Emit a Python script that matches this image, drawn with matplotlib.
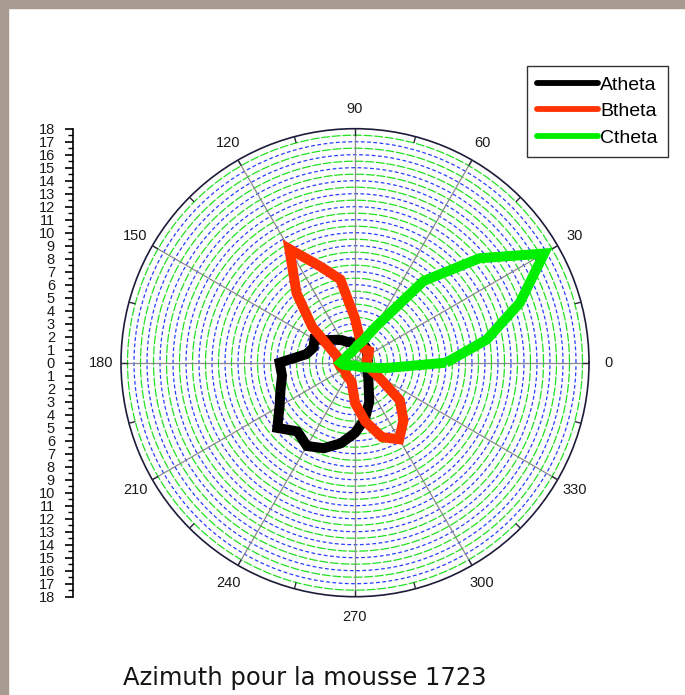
import numpy as np
import matplotlib
matplotlib.use("Agg")
import matplotlib.pyplot as plt
from matplotlib.patches import Rectangle
from matplotlib.lines import Line2D

# Azimuth bins (degrees) and radial values for each series
angles_deg = list(range(0, 360, 10))
atheta = [1.0, 1.0, 1.0, 1.1, 1.2, 1.4, 1.5, 1.6, 1.6, 1.5, 1.6, 1.7,
          2.0, 2.3, 2.7, 3.6, 3.4, 3.8, 5.8, 5.7, 6.1, 6.7, 7.8, 6.9,
          7.4, 7.0, 6.3, 5.4, 4.4, 3.2, 2.1, 1.6, 1.3, 1.1, 1.0, 1.0]
btheta = [0.9, 0.9, 1.0, 1.2, 1.4, 1.3, 1.3, 1.5, 2.0, 3.4, 6.5, 7.9,
          10.1, 7.0, 4.3, 2.2, 1.5, 1.3, 1.3, 1.2, 1.1, 1.0, 1.0, 1.1,
          1.2, 1.3, 1.5, 3.1, 4.6, 6.1, 6.8, 5.8, 4.5, 2.0, 1.2, 1.0]
ctheta = [7.0, 10.3, 13.5, 16.8, 12.5, 8.2, 3.2, 1.8, 1.4, 1.1, 0.95, 0.85,
          0.8, 0.8, 0.8, 0.8, 0.85, 0.95, 1.1, 0.9, 0.6, 0.45, 0.35, 0.3,
          0.25, 0.22, 0.2, 0.2, 0.22, 0.25, 0.3, 0.4, 0.5, 0.7, 1.1, 2.4]
series_names = ["Atheta", "Btheta", "Ctheta"]
series_colors = ["#000000", "#ff3300", "#00ee00"]

r_max = 18
angle_labels = list(range(0, 360, 30))
radial_labels = list(range(-18, 19))
title_text = "Azimuth pour la mousse 1723"

W, H = 685, 695
fig = plt.figure(figsize=(W / 100, H / 100), dpi=100)
fig.patch.set_facecolor("white")

# frame bars (top and left)
frame_col = "#a89b92"
fig.patches.append(Rectangle((0, 1 - 8 / H), 1, 8 / H, transform=fig.transFigure,
                             color=frame_col, zorder=0))
fig.patches.append(Rectangle((0, 0), 8 / W, 1, transform=fig.transFigure,
                             color=frame_col, zorder=0))

# polar axes
cx, cy, rad = 355, 362.7, 234
ax = fig.add_axes([(cx - rad) / W, (H - cy - rad) / H, 2 * rad / W, 2 * rad / H],
                  projection="polar")
ax.set_ylim(0, r_max)
ax.set_xticks([])
ax.set_yticks([])
ax.grid(False)
ax.spines["polar"].set_color("#1c1c3a")
ax.spines["polar"].set_linewidth(1.2)

full = np.linspace(0, 2 * np.pi, 721)
# concentric rings: alternating green and blue
for k in range(1, 2 * r_max):
    rr = k / 2
    if k % 2 == 1:
        ax.plot(full, np.full_like(full, rr), color="#22e022", lw=0.9,
                dashes=(7, 1.5), zorder=1)
    else:
        ax.plot(full, np.full_like(full, rr), color="#2a3cff", lw=0.9,
                dashes=(3, 2), zorder=1)

# spokes every 30 degrees
for a in angle_labels:
    t = np.deg2rad(a)
    ax.plot([t, t], [0, r_max], color="#8a8a8a", lw=0.9, zorder=2)
# tick marks every 15 degrees on the outer ring
for a in range(0, 360, 15):
    t = np.deg2rad(a)
    ax.plot([t, t], [r_max - 0.45, r_max], color="#2a2a3a", lw=1.0, zorder=3)

# angle labels
for a in angle_labels:
    ax.text(np.deg2rad(a), r_max * 1.085, str(a), ha="center", va="center",
            fontsize=10.5, family=["Liberation Sans", "DejaVu Sans"],
            color="#1a1a1a", clip_on=False)

# data curves (closed)
th = np.deg2rad(np.array(angles_deg + [angles_deg[0]]))
handles = []
for name, vals, col in zip(series_names, [atheta, btheta, ctheta], series_colors):
    rv = np.array(vals + [vals[0]])
    ax.plot(th, rv, color=col, lw=7.2, solid_joinstyle="miter",
            solid_capstyle="butt", zorder=5)
    handles.append(Line2D([], [], color=col, lw=4.2, solid_capstyle="round"))

leg = fig.legend(handles=handles, labels=series_names, loc="upper right",
                 bbox_to_anchor=(668 / W, 1 - 66 / H), frameon=True,
                 fancybox=False, shadow=False,
                 prop={"family": ["Liberation Sans", "DejaVu Sans"], "size": 14},
                 handlelength=3.15, handletextpad=0.1, labelspacing=0.46,
                 borderpad=0.52, borderaxespad=0)
leg.get_frame().set_edgecolor("black")
leg.get_frame().set_linewidth(1.0)

# vertical radial scale on the left
lax = fig.add_axes([73 / W, (H - cy - rad) / H, 0.001, 2 * rad / H])
lax.set_ylim(-r_max, r_max)
lax.set_xticks([])
for s in ["top", "right", "bottom"]:
    lax.spines[s].set_visible(False)
lax.spines["left"].set_linewidth(1.2)
lax.patch.set_alpha(0)
lax.set_yticks(radial_labels)
lax.set_yticklabels([str(abs(v)) for v in radial_labels],
                    family=["Liberation Sans Narrow", "Liberation Sans"],
                    fontsize=10.5, color="#1a1a1a")
lax.set_yticks(np.arange(-r_max, r_max + 0.01, 0.5), minor=True)
lax.tick_params(axis="y", which="major", length=6, width=1.2, pad=7, direction="out")
lax.tick_params(axis="y", which="minor", length=3.5, width=1.0, direction="out")

# caption
fig.text(305 / W, 1 - 678 / H, title_text, ha="center", va="center",
         fontsize=17.5, family=["DejaVu Sans"], color="#151515")

fig.savefig("out.png", dpi=100)
